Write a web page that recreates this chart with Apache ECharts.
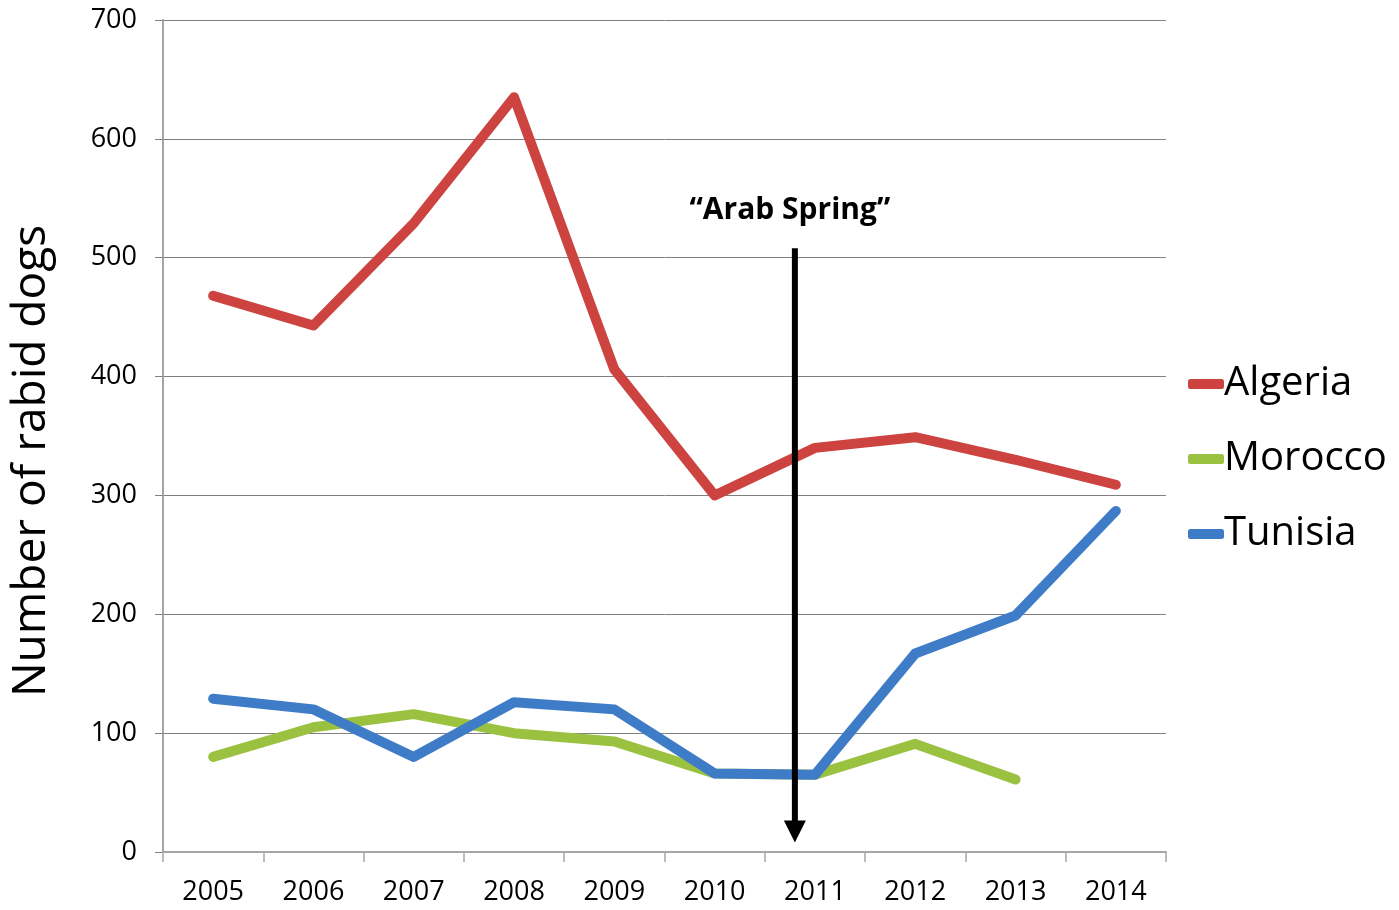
<!DOCTYPE html>
<html>
<head>
<meta charset="utf-8">
<script src="https://cdn.jsdelivr.net/npm/echarts@6/dist/echarts.min.js"></script>
<style>
  html, body { margin: 0; padding: 0; background: #fff; }
  #chart { width: 1399px; height: 910px; }
</style>
</head>
<body>
<div id="chart"></div>
<script>
const years = ["2005", "2006", "2007", "2008", "2009", "2010", "2011", "2012", "2013", "2014"];
const algeria = [468, 443, 529, 635, 406, 300, 340, 349, 330, 309];
const morocco = [80, 105, 116, 100, 93, 66, 65, 91, 61, null];
const tunisia = [129, 120, 80, 126, 120, 66, 65, 167, 199, 287];
const yTicks = [0, 100, 200, 300, 400, 500, 600, 700];

// annotation: arrow sits 80% of the way from 2010 to 2011
const arrowFrom = "2010";
const arrowTo = "2011";
const arrowFrac = 0.8;
const arrowTop = 508;
const arrowTip = 8;
const noteLabel = "\u201CArab Spring\u201D";

const chart = echarts.init(document.getElementById("chart"));
const font = "'Open Sans', sans-serif";

chart.setOption({
  animation: false,
  backgroundColor: "#ffffff",
  color: ["#cc4340", "#9bc141", "#3f7cc8"],
  grid: { left: 163, right: 233, top: 20, bottom: 58 },
  legend: {
    orient: "vertical",
    left: 1183,
    top: 354,
    icon: "roundRect",
    itemWidth: 36,
    itemHeight: 10,
    itemGap: 25,
    textStyle: { fontFamily: font, fontSize: 40, color: "#000", lineHeight: 50, padding: [0, 0, 0, -5] },
    data: ["Algeria", "Morocco", "Tunisia"]
  },
  xAxis: {
    type: "category",
    data: years,
    boundaryGap: true,
    axisLine: { lineStyle: { color: "#a6a6a6", width: 2 } },
    axisTick: { show: true, length: 10, lineStyle: { color: "#a6a6a6", width: 1.5 } },
    axisLabel: { color: "#000", fontFamily: font, fontSize: 27, margin: 27 }
  },
  yAxis: {
    type: "value",
    min: yTicks[0],
    max: yTicks[yTicks.length - 1],
    interval: 100,
    name: "Number of rabid dogs",
    nameLocation: "middle",
    nameGap: 108,
    nameTextStyle: { fontFamily: font, fontSize: 46, color: "#000", padding: [0, 50, 0, 0] },
    axisLine: { show: true, lineStyle: { color: "#a6a6a6", width: 2 } },
    axisTick: { show: true, length: 8, lineStyle: { color: "#808080" } },
    axisLabel: { color: "#000", fontFamily: font, fontSize: 27, margin: 26 },
    splitLine: { lineStyle: { color: "#808080", width: 1 } }
  },
  series: [
    { name: "Algeria", data: algeria },
    { name: "Morocco", data: morocco },
    { name: "Tunisia", data: tunisia }
  ].map((s) => ({
    name: s.name,
    type: "line",
    data: s.data,
    symbol: "none",
    connectNulls: false,
    lineStyle: { width: 10, cap: "round", join: "round" }
  }))
});

// arrow + label, placed through the axes
const xa = chart.convertToPixel({ xAxisIndex: 0 }, arrowFrom);
const xb = chart.convertToPixel({ xAxisIndex: 0 }, arrowTo);
const ax = xa + (xb - xa) * arrowFrac;
const ay0 = chart.convertToPixel({ yAxisIndex: 0 }, arrowTop);
const ay1 = chart.convertToPixel({ yAxisIndex: 0 }, arrowTip);
chart.setOption({
  graphic: [
    {
      type: "line",
      shape: { x1: ax, y1: ay0, x2: ax, y2: ay1 - 18 },
      style: { stroke: "#000", lineWidth: 6 },
      z: 100
    },
    {
      type: "polygon",
      shape: { points: [[ax - 11, ay1 - 22], [ax + 11, ay1 - 22], [ax, ay1]] },
      style: { fill: "#000" },
      z: 100
    },
    {
      type: "text",
      x: ax - 5,
      y: ay0 - 38,
      style: {
        text: noteLabel,
        font: "bold 30px 'Open Sans', sans-serif",
        fill: "#000",
        align: "center",
        verticalAlign: "middle"
      },
      z: 100
    }
  ]
});
</script>
</body>
</html>
